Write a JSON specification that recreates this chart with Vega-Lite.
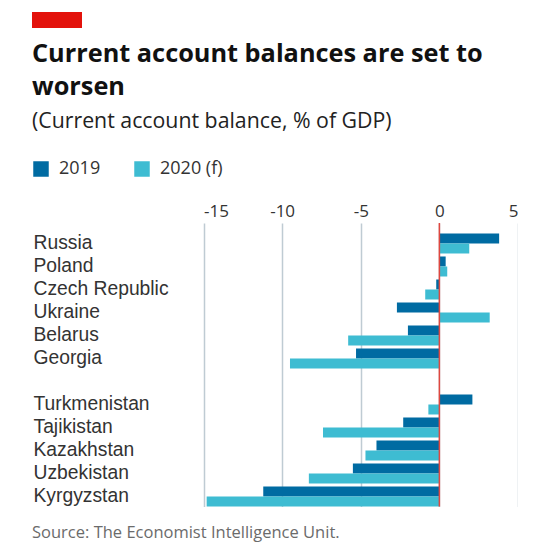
{
  "$schema": "https://vega.github.io/schema/vega-lite/v6.json",
  "padding": {"left": 32, "top": 12, "right": 0, "bottom": 0},
  "config": {"view": {"stroke": null}, "font": "Open Sans"},
  "title": {"text": "Source: The Economist Intelligence Unit.", "orient": "bottom", "anchor": "start", "frame": "bounds", "font": "Open Sans", "fontSize": 16.5, "fontWeight": "normal", "color": "#6b6b6b", "offset": 18},
  "spacing": 14,
  "vconcat": [
    {
      "width": 50,
      "height": 16,
      "data": {"values": [{"start": 0, "end": 1}]},
      "mark": {"type": "rect", "color": "#e3120b"},
      "encoding": {
        "x": {"field": "start", "type": "quantitative", "scale": {"domain": [0, 1], "nice": false, "zero": false}, "axis": null},
        "x2": {"field": "end"}
      }
    },
    {
      "width": 486,
      "height": 283.5,
      "title": {
        "text": ["Current account balances are set to", "worsen"],
        "subtitle": "(Current account balance, % of GDP)",
        "anchor": "start",
        "frame": "bounds",
        "font": "Open Sans",
        "fontSize": 25.3,
        "fontWeight": "bold",
        "color": "#111111",
        "lineHeight": 33,
        "subtitleFont": "Open Sans",
        "subtitleFontSize": 21.3,
        "subtitleColor": "#222222",
        "subtitlePadding": 10,
        "offset": 70
      },
      "data": {"values": [
        {"country": "Russia", "year": "2019", "value": 3.8},
        {"country": "Russia", "year": "2020 (f)", "value": 1.9},
        {"country": "Poland", "year": "2019", "value": 0.4},
        {"country": "Poland", "year": "2020 (f)", "value": 0.5},
        {"country": "Czech Republic", "year": "2019", "value": -0.2},
        {"country": "Czech Republic", "year": "2020 (f)", "value": -0.9},
        {"country": "Ukraine", "year": "2019", "value": -2.7},
        {"country": "Ukraine", "year": "2020 (f)", "value": 3.2},
        {"country": "Belarus", "year": "2019", "value": -2.0},
        {"country": "Belarus", "year": "2020 (f)", "value": -5.8},
        {"country": "Georgia", "year": "2019", "value": -5.3},
        {"country": "Georgia", "year": "2020 (f)", "value": -9.5},
        {"country": "Turkmenistan", "year": "2019", "value": 2.1},
        {"country": "Turkmenistan", "year": "2020 (f)", "value": -0.7},
        {"country": "Tajikistan", "year": "2019", "value": -2.3},
        {"country": "Tajikistan", "year": "2020 (f)", "value": -7.4},
        {"country": "Kazakhstan", "year": "2019", "value": -4.0},
        {"country": "Kazakhstan", "year": "2020 (f)", "value": -4.7},
        {"country": "Uzbekistan", "year": "2019", "value": -5.5},
        {"country": "Uzbekistan", "year": "2020 (f)", "value": -8.3},
        {"country": "Kyrgyzstan", "year": "2019", "value": -11.2},
        {"country": "Kyrgyzstan", "year": "2020 (f)", "value": -14.8}
      ]},
      "layer": [
        {
          "mark": {"type": "bar"},
          "encoding": {
            "y": {
              "field": "country",
              "type": "nominal",
              "scale": {
                "domain": ["Russia", "Poland", "Czech Republic", "Ukraine", "Belarus", "Georgia", " ", "Turkmenistan", "Tajikistan", "Kazakhstan", "Uzbekistan", "Kyrgyzstan"],
                "paddingInner": 0.13,
                "paddingOuter": 0.228,
                "align": 1
              },
              "axis": {"title": null, "labelAlign": "left", "labelPadding": -1, "ticks": false, "tickSize": 0, "domain": false, "grid": false, "labelFontSize": 19.3, "labelColor": "#333333", "labelFont": "Liberation Sans"}
            },
            "yOffset": {"field": "year", "type": "nominal", "sort": ["2019", "2020 (f)"]},
            "x": {
              "field": "value",
              "type": "quantitative",
              "scale": {"domain": [-15, 5], "range": [171.5, 486], "nice": false, "zero": false},
              "axis": {"orient": "top", "values": [-15, -10, -5, 0, 5], "labelExpr": "'' + datum.value", "title": null, "domain": false, "ticks": false, "tickSize": 0, "labelPadding": 3, "labelFontSize": 17, "labelColor": "#333333", "labelFont": "Open Sans", "grid": true, "gridColor": "#bfcbd3", "gridWidth": 1.5}
            },
            "color": {
              "field": "year",
              "type": "nominal",
              "scale": {"domain": ["2019", "2020 (f)"], "range": ["#006ba2", "#3ebcd2"]},
              "legend": {"title": null, "orient": "none", "legendX": 0, "legendY": 148, "direction": "horizontal", "symbolType": "square", "symbolSize": 240, "symbolStrokeWidth": 0, "symbolOpacity": 1, "labelFontSize": 18, "labelFont": "Open Sans", "labelColor": "#333333", "labelOffset": 9, "columnPadding": 32}
            }
          }
        },
        {
          "data": {"values": [{"v": 0}]},
          "mark": {"type": "rule", "color": "#e0473f", "strokeWidth": 1.5},
          "encoding": {"x": {"field": "v", "type": "quantitative"}}
        }
      ]
    }
  ]
}
